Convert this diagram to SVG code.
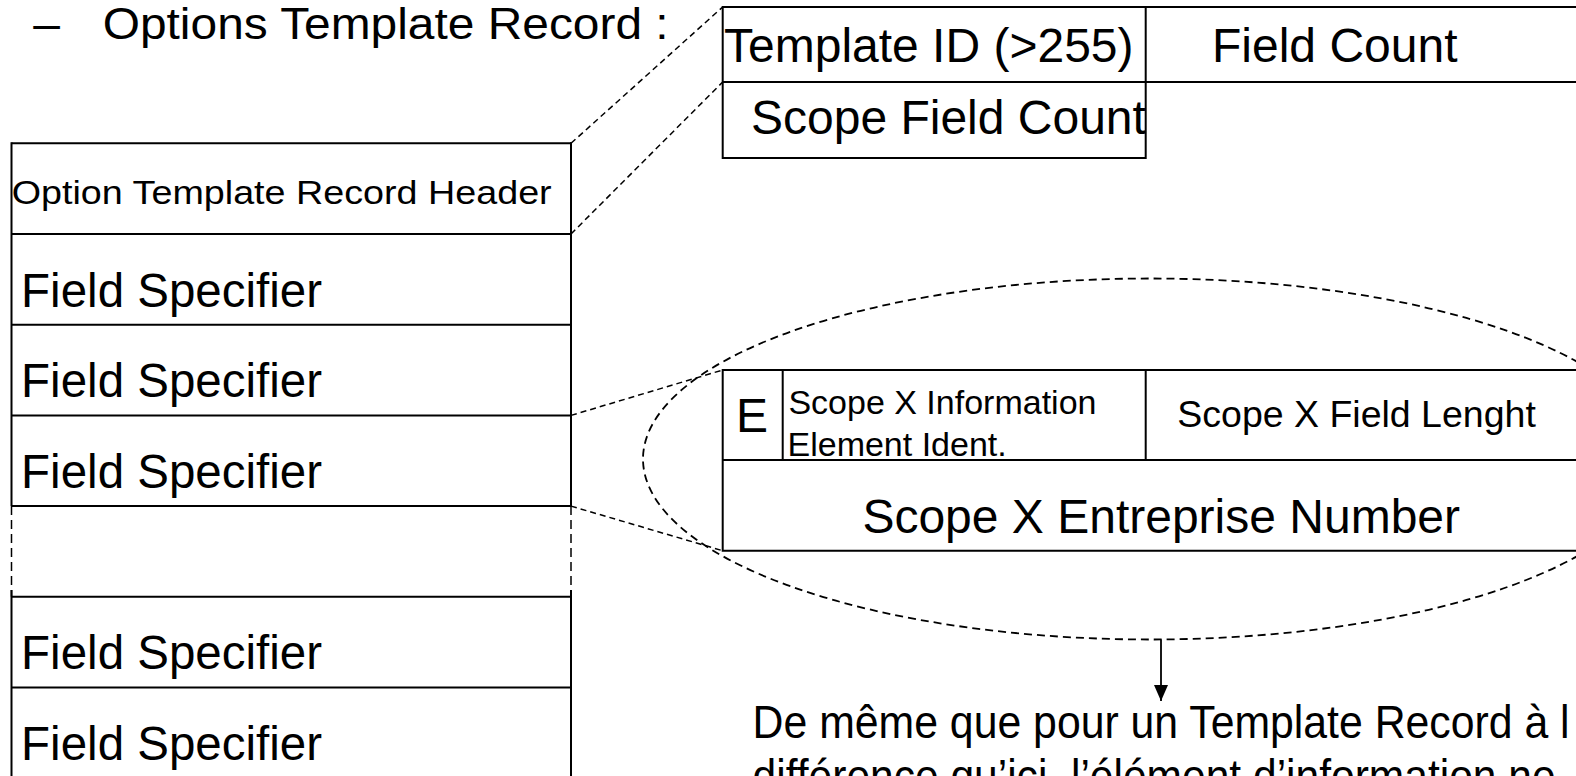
<svg xmlns="http://www.w3.org/2000/svg" width="1576" height="776" viewBox="0 0 1576 776">
  <style>
    text { font-family: "Liberation Sans", Arial, sans-serif; fill: #000; }
    .solid { fill: none; stroke: #000; stroke-width: 2; }
    .dash { fill: none; stroke: #000; stroke-width: 1.5; stroke-dasharray: 6 4; }
    .side { fill: none; stroke: #000; stroke-width: 1.5; stroke-dasharray: 9 5; }
    .oval { fill: none; stroke: #000; stroke-width: 1.8; stroke-dasharray: 8 5; }
    .big { font-size: 48px; }
  </style>
  <defs>
    <!-- filled arrowhead, drawn pointing along +x so orient="auto" aligns it with the line -->
    <marker id="head" viewBox="0 0 16 14" refX="16" refY="7" markerWidth="16" markerHeight="14" markerUnits="userSpaceOnUse" orient="auto">
      <path d="M0,0 L16,7 L0,14 Z" fill="#000"/>
    </marker>
  </defs>

  <rect width="1576" height="776" fill="#fff"/>

  <!-- heading -->
  <g id="title">
    <text x="33.3" y="38.5" font-size="44" textLength="26.7" lengthAdjust="spacingAndGlyphs">–</text>
    <text x="102.7" y="38.5" font-size="44" textLength="566" lengthAdjust="spacingAndGlyphs">Options Template Record :</text>
  </g>

  <!-- zoom-out ellipse around the scope field specifier -->
  <g id="scope-ellipse">
    <ellipse class="oval" cx="1150" cy="459" rx="507" ry="180.5"/>
  </g>

  <!-- record stack on the left -->
  <g id="record-stack">
    <g id="header-row">
      <line class="solid" x1="11.5" y1="143.3" x2="571" y2="143.3"/>
      <text x="11.7" y="204" font-size="34" textLength="540" lengthAdjust="spacingAndGlyphs">Option Template Record Header</text>
    </g>
    <g id="field-1">
      <line class="solid" x1="11.5" y1="234" x2="571" y2="234"/>
      <text class="big" x="21.1" y="306.5" textLength="301" lengthAdjust="spacingAndGlyphs">Field Specifier</text>
    </g>
    <g id="field-2">
      <line class="solid" x1="11.5" y1="324.7" x2="571" y2="324.7"/>
      <text class="big" x="21.1" y="397.2" textLength="301" lengthAdjust="spacingAndGlyphs">Field Specifier</text>
    </g>
    <g id="field-3">
      <line class="solid" x1="11.5" y1="415.4" x2="571" y2="415.4"/>
      <text class="big" x="21.1" y="487.9" textLength="301" lengthAdjust="spacingAndGlyphs">Field Specifier</text>
    </g>
    <g id="gap-row">
      <line class="solid" x1="11.5" y1="506.1" x2="571" y2="506.1"/>
      <line class="side" x1="11.5" y1="506.1" x2="11.5" y2="596.8"/>
      <line class="side" x1="571" y1="506.1" x2="571" y2="596.8"/>
    </g>
    <g id="field-4">
      <line class="solid" x1="11.5" y1="596.8" x2="571" y2="596.8"/>
      <text class="big" x="21.1" y="669.3" textLength="301" lengthAdjust="spacingAndGlyphs">Field Specifier</text>
    </g>
    <g id="field-5">
      <line class="solid" x1="11.5" y1="687.5" x2="571" y2="687.5"/>
      <text class="big" x="21.1" y="760" textLength="301" lengthAdjust="spacingAndGlyphs">Field Specifier</text>
    </g>
    <!-- solid side walls -->
    <line class="solid" x1="11.5" y1="142.3" x2="11.5" y2="506.1"/>
    <line class="solid" x1="571" y1="142.3" x2="571" y2="506.1"/>
    <line class="solid" x1="11.5" y1="590" x2="11.5" y2="780"/>
    <line class="solid" x1="571" y1="590" x2="571" y2="780"/>
  </g>

  <!-- header detail table -->
  <g id="header-table">
    <path class="solid" d="M1576,7 H722.7 V158 H1145.7 V7 M722.7,82 H1576"/>
    <text class="big" x="724" y="62">Template ID (&gt;255)</text>
    <text class="big" x="1212" y="62">Field Count</text>
    <text class="big" x="751" y="134">Scope Field Count</text>
  </g>

  <!-- scope field specifier table -->
  <g id="scope-table">
    <path class="solid" d="M1576,370 H722.7 V550.7 H1576 M722.7,460 H1576 M782.7,370 V460 M1145.7,370 V460"/>
    <text class="big" x="736" y="431.5">E</text>
    <text x="788.4" y="414" font-size="34">Scope X Information</text>
    <text x="787.5" y="455.5" font-size="34">Element Ident.</text>
    <text x="1177.3" y="427" font-size="36" textLength="358.5" lengthAdjust="spacingAndGlyphs">Scope X Field Lenght</text>
    <text class="big" x="862.4" y="533">Scope X Entreprise Number</text>
  </g>

  <!-- note below the ellipse -->
  <g id="note">
    <text x="752.6" y="737.5" font-size="47" textLength="817" lengthAdjust="spacingAndGlyphs">De même que pour un Template Record à l</text>
    <text x="752.6" y="791.5" font-size="47" textLength="803" lengthAdjust="spacingAndGlyphs">différence qu’ici, l’élément d’information ne</text>
  </g>

  <!-- connectors -->
  <g id="connectors">
    <line class="dash" x1="571" y1="143.3" x2="722.7" y2="7"/>
    <line class="dash" x1="571" y1="234" x2="722.7" y2="82"/>
    <line class="dash" x1="571" y1="415.4" x2="722.7" y2="370"/>
    <line class="dash" x1="571" y1="506.1" x2="722.7" y2="550.7"/>
    <line class="solid" style="stroke-width:1.8" x1="1161" y1="639.5" x2="1161" y2="701" marker-end="url(#head)"/>
  </g>
</svg>
